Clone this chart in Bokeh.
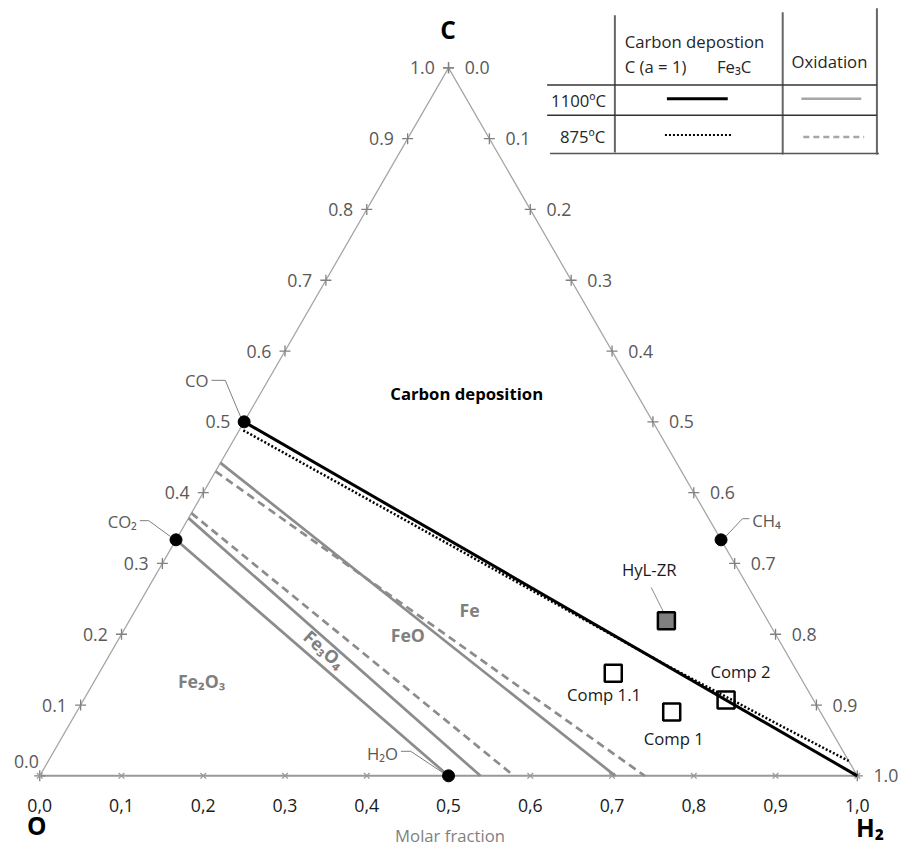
import math
from bokeh.plotting import figure
from bokeh.models import Range1d
from bokeh.embed import file_html
from bokeh.resources import INLINE
from bokeh.core.properties import value

# ---------------- data (molar fractions, O + H2 + C = 1) ----------------
tick_values = [0.0, 0.1, 0.2, 0.3, 0.4, 0.5, 0.6, 0.7, 0.8, 0.9, 1.0]
left_tick_labels = ["0.0", "0.1", "0.2", "0.3", "0.4", "0.5", "0.6", "0.7", "0.8", "0.9", "1.0"]
right_tick_labels = ["0.0", "0.1", "0.2", "0.3", "0.4", "0.5", "0.6", "0.7", "0.8", "0.9", "1.0"]
bottom_tick_labels = ["0,0", "0,1", "0,2", "0,3", "0,4", "0,5", "0,6", "0,7", "0,8", "0,9", "1,0"]

species = ["CO", "CO₂", "H₂O", "CH₄"]
species_C = [0.5, 1 / 3, 0.0, 1 / 3]
species_H2 = [0.0, 0.0, 0.5, 2 / 3]

samples = ["HyL-ZR", "Comp 1.1", "Comp 1", "Comp 2"]
samples_C = [0.219, 0.145, 0.090, 0.107]
samples_H2 = [0.657, 0.629, 0.728, 0.786]
samples_filled = [True, False, False, False]

# carbon deposition boundaries
cd_1100_C = [0.5, 0.0]
cd_1100_H2 = [0.0, 1.0]
cd_875_C = [0.488, 0.294, 0.155, 0.067, 0.021]
cd_875_H2 = [0.005, 0.405, 0.691, 0.879, 0.979]

# oxidation boundaries: start on O-C edge (C fraction), end on O-H2 edge (H2 fraction)
ox_1100_start_C = [1 / 3, 0.364, 0.442]
ox_1100_end_H2 = [0.5, 0.539, 0.704]
ox_875_start_C = [0.371, 0.430]
ox_875_end_H2 = [0.580, 0.740]

regions = ["Fe", "FeO", "Fe₂O₃"]

# ---------------- geometry helpers ----------------
S3 = math.sqrt(3) / 2
OX, OY, SC = 40.0, 790.0, 833.0   # layout: O corner position and side length (reference px)
K = 846.0 / 862.0                 # overall scale so the 919x862 layout fits the canvas


def tern(c, h):
    return h + c / 2.0, c * S3


def terns(cs, hs):
    pts = [tern(c, h) for c, h in zip(cs, hs)]
    return [p[0] for p in pts], [p[1] for p in pts]


def P(px, py):
    return (px - OX) / SC, (OY - py) / SC


def Px(px):
    return (px - OX) / SC


def Py(py):
    return (OY - py) / SC


def fs(n):
    return f"{n * K:.1f}px"


W, H = 903, 846
x0r = Px(0)
y1r = Py(0)
p = figure(width=W, height=H, output_backend="svg", toolbar_location=None,
           x_axis_type=None, y_axis_type=None, min_border=0,
           x_range=Range1d(x0r, x0r + W / (SC * K)),
           y_range=Range1d(y1r - H / (SC * K), y1r))
p.grid.visible = False
p.outline_line_color = None
p.background_fill_color = "white"

FONT = value("Open Sans")
GRAY_TXT = "#595959"
LINE_GRAY = "#8c8c8c"

# ---------------- triangle ----------------
xO, yO = tern(0, 0)
xH, yH = tern(0, 1)
xC, yC = tern(1, 0)
p.line([xO, xC, xH], [yO, yC, yH], line_color="#a6a6a6", line_width=1.3)
p.line([xO, xH], [yO, yH], line_color="#999999", line_width=2)

# ticks
lx, ly = terns(tick_values, [0] * len(tick_values))
rx, ry = terns([1 - v for v in tick_values], tick_values)
bx, by = terns([0] * len(tick_values), tick_values)
p.scatter(lx, ly, marker="cross", size=11, line_color="#808080", line_width=1.3)
p.scatter(rx, ry, marker="cross", size=11, line_color="#808080", line_width=1.3)
p.scatter(bx, by, marker="x", size=8, line_color="#999999", line_width=1.3)

# ---------------- oxidation lines ----------------
for c0, h1 in zip(ox_1100_start_C, ox_1100_end_H2):
    xa, ya = tern(c0, 0)
    xb, yb = tern(0, h1)
    p.line([xa, xb], [ya, yb], line_color=LINE_GRAY, line_width=2.7)
for c0, h1 in zip(ox_875_start_C, ox_875_end_H2):
    xa, ya = tern(c0, 0)
    xb, yb = tern(0, h1)
    p.line([xa, xb], [ya, yb], line_color=LINE_GRAY, line_width=2.7, line_dash="8 5")

# ---------------- carbon deposition ----------------
cx, cy = terns(cd_875_C, cd_875_H2)
p.line(cx, cy, line_color="black", line_width=2.5, line_dash="2 2")
cx, cy = terns(cd_1100_C, cd_1100_H2)
p.line(cx, cy, line_color="black", line_width=3)

# ---------------- species points & labels ----------------
sx, sy = terns(species_C, species_H2)
leaders = {
    "CO": [(215, 387), (229, 387), (245, 425)],
    "CO₂": [(142, 530), (151, 530), (173, 546)],
    "H₂O": [(408, 765), (418, 765), (451, 787)],
    "CH₄": [(763, 528), (756, 528), (739, 546)],
}
label_pos = {
    "CO": (212, 387, "right"),
    "CO₂": (139, 531, "right"),
    "H₂O": (405, 767, "right"),
    "CH₄": (766, 530, "left"),
}
for name in species:
    pts = [P(a, b) for a, b in leaders[name]]
    p.line([q[0] for q in pts], [q[1] for q in pts], line_color="#7f7f7f", line_width=1)
    tx, ty, al = label_pos[name]
    p.text([Px(tx)], [Py(ty)], text=[name], text_font=FONT, text_font_size=fs(17),
           text_color=GRAY_TXT, text_align=al, text_baseline="middle")
p.scatter(sx, sy, marker="circle", size=12, fill_color="black", line_color="black")

# ---------------- samples ----------------
fx, fy, ox_, oy_ = [], [], [], []
for c, h, f in zip(samples_C, samples_H2, samples_filled):
    x, y = tern(c, h)
    if f:
        fx.append(x); fy.append(y)
    else:
        ox_.append(x); oy_.append(y)
q = [P(663, 598), P(676, 624)]
p.line([q[0][0], q[1][0]], [q[0][1], q[1][1]], line_color="#8c8c8c", line_width=1)
p.scatter(fx, fy, marker="square", size=17, fill_color="#808080", line_color="black", line_width=2.5)
p.scatter(ox_, oy_, marker="square", size=17, fill_color="white", fill_alpha=0.0,
          line_color="black", line_width=2.5)
sample_pos = {"HyL-ZR": (661, 580), "Comp 1.1": (615, 707), "Comp 1": (686, 752), "Comp 2": (754, 684)}
for name in samples:
    tx, ty = sample_pos[name]
    p.text([Px(tx)], [Py(ty)], text=[name], text_font=FONT, text_font_size=fs(17),
           text_color="#1a1a1a", text_align="center", text_baseline="middle")

# ---------------- tick labels ----------------
lab_x = [Px(40 + SC * v / 2 - 14) for v in tick_values]
lab_y = list(ly)
lab_x[0] = Px(39)
lab_y[0] = Py(775)
p.text(lab_x, lab_y, text=left_tick_labels, text_font=FONT, text_font_size=fs(18),
       text_color=GRAY_TXT, text_align="right", text_baseline="middle")
rlab_x = [x + 16.5 / SC for x in rx]
p.text(rlab_x, list(ry), text=right_tick_labels, text_font=FONT, text_font_size=fs(18),
       text_color=GRAY_TXT, text_align="left", text_baseline="middle")
p.text(list(bx), [Py(820)] * len(bx), text=bottom_tick_labels, text_font=FONT, text_font_size=fs(18),
       text_color="#1a1a1a", text_align="center", text_baseline="middle")

# ---------------- corner / axis titles ----------------
p.text([Px(456)], [Py(30)], text=["C"], text_font=FONT, text_font_size=fs(25), text_font_style="bold",
       text_color="black", text_align="center", text_baseline="middle")
p.text([Px(37)], [Py(841)], text=["O"], text_font=FONT, text_font_size=fs(25), text_font_style="bold",
       text_color="black", text_align="center", text_baseline="middle")
p.text([Px(886)], [Py(843)], text=["H₂"], text_font=FONT, text_font_size=fs(25), text_font_style="bold",
       text_color="black", text_align="center", text_baseline="middle")
p.text([Px(458)], [Py(851)], text=["Molar fraction"], text_font=FONT, text_font_size=fs(17),
       text_color="#7f7f7f", text_align="center", text_baseline="middle")

# ---------------- region labels ----------------
p.text([Px(475)], [Py(400)], text=["Carbon deposition"], text_font=FONT, text_font_size=fs(17),
       text_font_style="bold", text_color="black", text_align="center", text_baseline="middle")
region_pos = {"Fe": (478, 621), "FeO": (415, 647), "Fe₂O₃": (205, 693)}
for name in regions:
    tx, ty = region_pos[name]
    p.text([Px(tx)], [Py(ty)], text=[name], text_font=FONT, text_font_size=fs(18),
           text_font_style="bold", text_color="#7f7f7f", text_align="center", text_baseline="middle")
a0 = tern(ox_1100_start_C[1], 0)
a1 = tern(0, ox_1100_end_H2[1])
ang = math.atan2(a1[1] - a0[1], a1[0] - a0[0])
p.text([Px(330)], [Py(661)], text=["Fe₃O₄"], angle=ang, text_font=FONT, text_font_size=fs(18),
       text_font_style="bold", text_color="#7f7f7f", text_align="center", text_baseline="middle")

# ---------------- legend table ----------------
def seg(xa, ya, xb, yb, **kw):
    a, b = P(xa, ya)
    c, d = P(xb, yb)
    p.line([a, c], [b, d], **kw)


seg(626, 15, 626, 155, line_color="#666666", line_width=2)
seg(797, 12, 797, 157, line_color="#666666", line_width=2)
seg(893, 8, 893, 157, line_color="#666666", line_width=2)
seg(557, 86, 893, 86, line_color="#333333", line_width=1.5)
seg(557, 117, 893, 117, line_color="#333333", line_width=1.5)
seg(560, 156, 895, 156, line_color="#555555", line_width=1.5)
seg(679, 100, 741, 100, line_color="black", line_width=3)
seg(816, 100, 877, 100, line_color="#a6a6a6", line_width=2.5)
seg(677, 137, 745, 137, line_color="black", line_width=2, line_dash="2 2")
seg(818, 139, 880, 139, line_color="#a6a6a6", line_width=2.5, line_dash="6 4")

leg_txt = [("Carbon depostion", 636, 42), ("C (a = 1)", 636, 67), ("Fe₃C", 730, 67),
           ("Oxidation", 806, 62), ("1100ºC", 561, 102), ("875ºC", 570, 139)]
for t, tx, ty in leg_txt:
    p.text([Px(tx)], [Py(ty)], text=[t], text_font=FONT, text_font_size=fs(17),
           text_color="#262626", text_align="left", text_baseline="middle")

open("out.html", "w").write(file_html(p, INLINE))
